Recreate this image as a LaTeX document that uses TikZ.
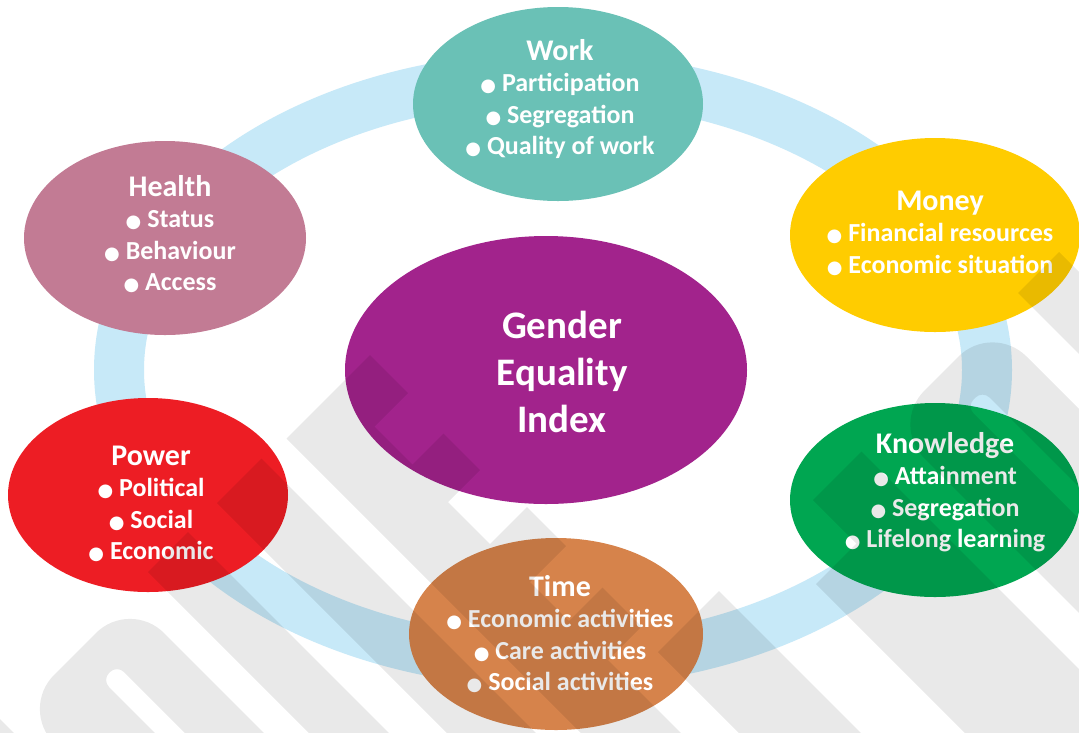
\documentclass[tikz,border=0pt]{standalone}
\usepackage{fontspec}
\newfontfamily\carl{Carlito}
\newfontfamily\dejavu{DejaVu Sans}
\usetikzlibrary{shapes.geometric}
\definecolor{ringc}{HTML}{C7E9F8}
\definecolor{workc}{HTML}{6AC1B6}
\definecolor{healthc}{HTML}{C27B94}
\definecolor{gendc}{HTML}{A2238C}
\definecolor{moneyc}{HTML}{FFCC00}
\definecolor{knowc}{HTML}{00A651}
\definecolor{powerc}{HTML}{ED1D24}
\definecolor{timec}{HTML}{D6834B}
\newcommand\bul{{\dejavu\fontsize{18}{18}\selectfont ●}\ }
\newcommand\ttl[1]{{\fontsize{30}{31.5}\selectfont #1}}
\tikzset{
  oval/.style={ellipse, inner sep=0pt, draw=none, minimum width=290pt, minimum height=194pt},
  lbl/.style={text=white, font=\carl\bfseries\fontsize{26}{31.5}\selectfont, align=center, inner sep=0pt},
  biglbl/.style={text=white, font=\carl\bfseries\fontsize{39}{47}\selectfont, align=center, inner sep=0pt},
}
\begin{document}
\begin{tikzpicture}[x=1pt,y=-1pt]
\useasboundingbox[fill=white] (0,0) rectangle (1079,732);
% ring
\draw[ringc, line width=50pt] (553,370) ellipse [x radius=434pt, y radius=293pt];
% ellipses
\node[oval, fill=workc] (work) at (558,104) {};
\node[oval, fill=moneyc] (money) at (935,235) {};
\node[oval, fill=knowc] (know) at (935,500) {};
\node[oval, fill=healthc, minimum width=282pt] (health) at (165,238) {};
\node[oval, fill=powerc, minimum width=280pt] (power) at (148,495) {};
\node[oval, fill=timec, minimum width=294pt, minimum height=192pt] (time) at (556,634) {};
\node[oval, fill=gendc, minimum width=402pt, minimum height=268pt] (gei) at (546,370) {};
% texts
\node[lbl] (workt) at (560,99) {\ttl{Work}\\\bul Participation\\\bul Segregation\\\bul Quality of work};
\node[lbl] (moneyt) at (940,233) {\ttl{Money}\\\bul Financial resources\\\bul Economic situation};
\node[lbl] (healtht) at (170,234) {\ttl{Health}\\\bul Status\\\bul Behaviour\\\bul Access};
\node[lbl] (powert) at (151,504) {\ttl{Power}\\\bul Political\\\bul Social\\\bul Economic};
\node[lbl] (knowt) at (945,492) {\ttl{Knowledge}\\\bul Attainment\\\bul Segregation\\\bul Lifelong learning};
\node[lbl] (timet) at (560,634) {\ttl{Time}\\\bul Economic activities\\\bul Care activities\\\bul Social activities};
\node[biglbl] (geit) at (562,372) {Gender\\Equality\\Index};
% watermark
\begin{scope}[transparency group, opacity=0.086]
\begin{scope}[x={(0.5pt,0.5pt)}, y={(0.5pt,-0.5pt)}]
\fill[black] (-800,600) -- (-719,600) -- (-719,1700) -- (-800,1700) -- cycle;
\fill[black] (-152,725) -- (15,725) -- (15,801) -- (-52,801) -- (-52,877) -- (10,877) -- (10,950) -- (-54,950) -- (-54,1034) -- (20,1034) -- (20,1112) -- (-52,1112) -- (-52,1190) -- (15,1190) -- (15,1268) -- (-52,1268) -- (-52,1800) -- (-152,1800) -- cycle;
\fill[black] (-286,720) -- (-197,720) -- (-197,1800) -- (-286,1800) -- cycle;
\fill[black] (-424,720) -- (-344,720) -- (-344,1800) -- (-424,1800) -- cycle;
\fill[black, even odd rule] [rounded corners=48pt] (-689,729) -- (-469,729) -- (-469,1800) -- (-689,1800) -- cycle
   [rounded corners=10pt] (-578,782) -- (-548,782) -- (-548,1800) -- (-578,1800) -- cycle;
\fill[black] (6,1310) -- (128,1310) -- (128,2300) -- (6,2300) -- cycle;
\fill[black] (313,1313) -- (410,1313) -- (410,2300) -- (232,2300) -- (232,1400) -- (313,1400) -- cycle;
\fill[black] (725,1311) -- (807,1311) -- (807,2400) -- (725,2400) -- cycle;
\fill[black, even odd rule] [rounded corners=48pt] (466,1315) -- (670,1315) -- (670,2400) -- (466,2400) -- cycle
   [rounded corners=10pt] (560,1373) -- (592,1373) -- (592,2400) -- (560,2400) -- cycle;
\end{scope}
\end{scope}
\end{tikzpicture}
\end{document}
